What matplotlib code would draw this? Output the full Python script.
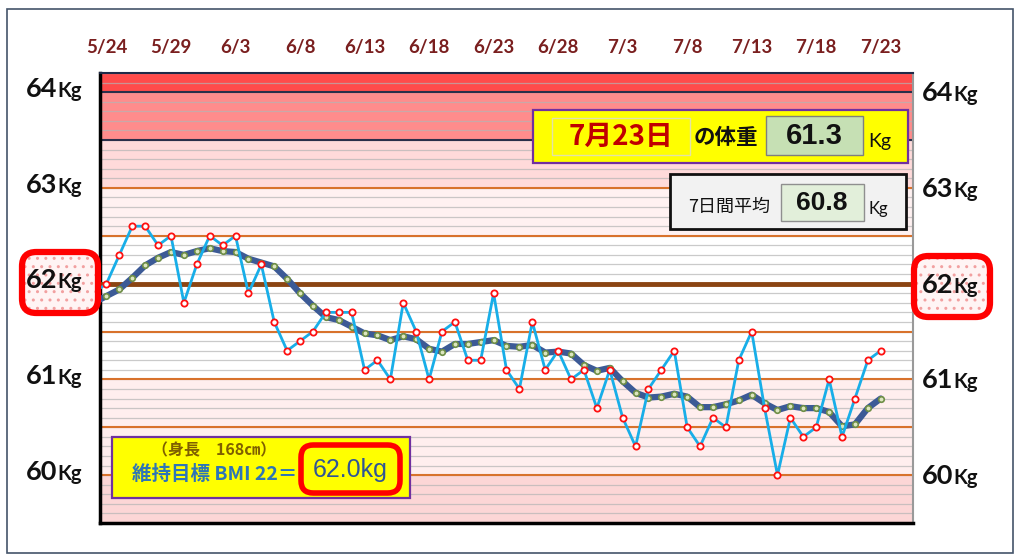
import numpy as np
import matplotlib.pyplot as plt
import matplotlib.transforms as mtransforms
from matplotlib.patches import Rectangle, FancyBboxPatch

# day index -1 is 5/23 (clipped at the left edge)
days = np.arange(-1, 61)
tick_days = list(range(0, 61, 5))
tick_labels = ["5/24", "5/29", "6/3", "6/8", "6/13", "6/18", "6/23",
               "6/28", "7/3", "7/8", "7/13", "7/18", "7/23"]

weight = [61.9, 62.0, 62.3, 62.6, 62.6, 62.4, 62.5, 61.8, 62.2, 62.5, 62.4,
          62.5, 61.9, 62.2, 61.6, 61.3, 61.4, 61.5, 61.7, 61.7, 61.7, 61.1,
          61.2, 61.0, 61.8, 61.5, 61.0, 61.5, 61.6, 61.2, 61.2, 61.9, 61.1,
          60.9, 61.6, 61.1, 61.3, 61.0, 61.1, 60.7, 61.1, 60.6, 60.3, 60.9,
          61.1, 61.3, 60.5, 60.3, 60.6, 60.5, 61.2, 61.5, 60.7, 60.0, 60.6,
          60.4, 60.5, 61.0, 60.4, 60.8, 61.2, 61.3]

avg7 = [61.80, 61.87, 61.94, 62.06, 62.19, 62.27, 62.33, 62.30, 62.34, 62.37,
        62.34, 62.33, 62.26, 62.22, 62.18, 62.05, 61.90, 61.77, 61.65, 61.62,
        61.55, 61.48, 61.46, 61.41, 61.45, 61.42, 61.32, 61.29, 61.37, 61.37,
        61.39, 61.41, 61.35, 61.34, 61.36, 61.28, 61.29, 61.27, 61.15, 61.09,
        61.12, 60.98, 60.86, 60.81, 60.82, 60.85, 60.82, 60.71, 60.71, 60.74,
        60.78, 60.84, 60.75, 60.68, 60.72, 60.70, 60.70, 60.66, 60.51, 60.53,
        60.70, 60.80]

kg_labels = [60, 61, 62, 63, 64]
goal = 62.0
today_label = "7月23日"
today_weight = 61.3
week_avg = 60.8

JP = ['Noto Sans CJK JP', 'DejaVu Sans']
LAT = ['Lato', 'DejaVu Sans']
LIB = ['Liberation Sans', 'DejaVu Sans']

W, H = 1024, 558
fig = plt.figure(figsize=(W / 100, H / 100), dpi=100)
fig.patch.set_facecolor('white')


def fx(px):
    return px / W


def fy(py):
    return 1 - py / H


ax = fig.add_axes([fx(100), fy(523), fx(913) - fx(100), fy(73) - fy(523)])
ax.set_xlim(-0.5, 62.5)
ax.set_ylim(59.5, 64.2)

# background bands
bands = [(59.5, 60.0, '#FCD6D6'), (60.0, 61.0, '#FFEEEE'), (61.0, 62.5, 'white'),
         (62.5, 63.0, '#FFF1F1'), (63.0, 63.5, '#FFDADA'), (63.5, 64.0, '#FF8C8C'),
         (64.0, 64.2, '#FF4B4B')]
for lo, hi, c in bands:
    ax.axhspan(lo, hi, color=c, lw=0, zorder=0)

for v in np.arange(59.6, 64.2, 0.1):
    ax.axhline(v, color='#B4B4B4', lw=0.9, alpha=0.7, zorder=1)
for v in [60.0, 60.5, 61.0, 61.5, 62.5, 63.0]:
    ax.axhline(v, color='#D8722C', lw=1.5, zorder=2)
for v in [63.5, 64.0]:
    ax.axhline(v, color='#2B2F4A', lw=1.5, zorder=2)
ax.axhline(goal, color='#8B4513', lw=3.5, zorder=3)

ax.plot(days, avg7, color='#3C5A96', lw=4.5, solid_joinstyle='round',
        solid_capstyle='round', marker='o', ms=4, mfc='#DCE6C0', mec='#6E8E46',
        mew=1.2, zorder=4)
ax.plot(days, weight, color='#18AEE8', lw=2, marker='o', ms=4.5, mfc='white',
        mec='#FF1010', mew=1.3, zorder=5)

ax.xaxis.tick_top()
ax.set_xticks(tick_days)
ax.set_xticklabels(tick_labels, family=LAT, fontweight='bold', fontsize=13.5,
                   color='#7A1F1F')
ax.tick_params(axis='x', length=0, pad=12)
ax.set_yticks([])

ax.spines['left'].set_color('black')
ax.spines['left'].set_linewidth(2.5)
ax.spines['bottom'].set_color('black')
ax.spines['bottom'].set_linewidth(2.5)
ax.spines['top'].set_color('#1F2A48')
ax.spines['top'].set_linewidth(1.5)
ax.spines['right'].set_color('#9A9A9A')
ax.spines['right'].set_linewidth(1.5)

# outer frame
fig.patches.append(Rectangle((fx(7), fy(553)), fx(1013) - fx(7), fy(9) - fy(553),
                             transform=fig.transFigure, fill=False,
                             edgecolor='#44546A', lw=1.2, zorder=1))

# red boxes around the 62Kg labels
for x0, x1, y0, y1 in [(22, 98, 252, 313), (914, 990, 256, 317)]:
    bg = FancyBboxPatch((fx(x0), fy(y1)), fx(x1) - fx(x0), fy(y0) - fy(y1),
                        boxstyle='round,pad=0,rounding_size=0.02',
                        transform=fig.transFigure, facecolor='#FFF4F4',
                        edgecolor='#F2A0A0', hatch='..', lw=0, zorder=2,
                        mutation_aspect=W / H)
    fig.patches.append(bg)
    rim = FancyBboxPatch((fx(x0), fy(y1)), fx(x1) - fx(x0), fy(y0) - fy(y1),
                         boxstyle='round,pad=0,rounding_size=0.014',
                         transform=fig.transFigure, facecolor='none',
                         edgecolor='#FF0000', lw=4.5, zorder=2,
                         mutation_aspect=W / H)
    fig.patches.append(rim)

# kg labels on both sides
trans = mtransforms.blended_transform_factory(fig.transFigure, ax.transData)
for v in kg_labels:
    fig.text(fx(57), v - 0.05, str(v), transform=trans, ha='right', va='baseline',
             family=LAT, fontweight='bold', fontsize=19.5, color='#111111', zorder=5)
    fig.text(fx(57.5), v - 0.05, 'Kg', transform=trans, ha='left', va='baseline',
             family=LAT, fontweight='bold', fontsize=14.5, color='#111111', zorder=5)
    fig.text(fx(953), v - 0.095, str(v), transform=trans, ha='right', va='baseline',
             family=LAT, fontweight='bold', fontsize=19.5, color='#111111', zorder=5)
    fig.text(fx(953.5), v - 0.095, 'Kg', transform=trans, ha='left', va='baseline',
             family=LAT, fontweight='bold', fontsize=14.5, color='#111111', zorder=5)


def box(x0, y0, x1, y1, fc, ec, lw):
    fig.patches.append(Rectangle((fx(x0), fy(y1)), fx(x1) - fx(x0), fy(y0) - fy(y1),
                                 transform=fig.transFigure, facecolor=fc,
                                 edgecolor=ec, lw=lw, zorder=3))


# today's weight box
box(533, 110, 908, 163, '#FFFF00', '#7030A0', 1.6)
box(552, 118, 690, 155, '#FFFF00', '#E2E2A8', 1.0)
fig.text(fx(621), fy(137), today_label, ha='center', va='center', family=JP,
         fontweight='bold', fontsize=20, color='#C00000', zorder=5)
fig.text(fx(694), fy(138), 'の体重', ha='left', va='center', family=JP,
         fontweight='bold', fontsize=15.5, color='#111111', zorder=5)
box(766, 116, 863, 155, '#C6E0B4', '#7F7F7F', 1.0)
fig.text(fx(814), fy(136), f'{today_weight:.1f}', ha='center', va='center',
         family=LIB, fontweight='bold', fontsize=21, color='#111111', zorder=5)
fig.text(fx(868), fy(141), 'Kg', ha='left', va='center', family=LAT,
         fontsize=14, color='#111111', zorder=5)

# 7 day average box
box(670, 174, 906, 229, '#F2F2F2', '#111111', 2.0)
fig.text(fx(688), fy(207), '7日間平均', ha='left', va='center', family=JP,
         fontsize=13, color='#111111', zorder=5)
box(781, 184, 864, 221, '#E2EFDA', '#8F8F8F', 1.0)
fig.text(fx(822), fy(203), f'{week_avg:.1f}', ha='center', va='center',
         family=LIB, fontweight='bold', fontsize=19, color='#111111', zorder=5)
fig.text(fx(869), fy(209), 'Kg', ha='left', va='center', family=LAT,
         fontsize=12, color='#111111', zorder=5)

# BMI goal box
box(112, 437, 410, 498, '#FFFF00', '#7030A0', 1.6)
fig.text(fx(152), fy(450), '（身長　168㎝）', ha='left', va='center', family=JP,
         fontweight='bold', fontsize=11.5, color='#7F6000', zorder=5)
fig.text(fx(132), fy(474), '維持目標 BMI 22＝', ha='left', va='center', family=JP,
         fontweight='bold', fontsize=14, color='#2E75B6', zorder=5)
fig.patches.append(FancyBboxPatch((fx(301), fy(493)), fx(400) - fx(301),
                                  fy(445) - fy(493),
                                  boxstyle='round,pad=0,rounding_size=0.012',
                                  transform=fig.transFigure, facecolor='none',
                                  edgecolor='#FF0000', lw=4, zorder=4,
                                  mutation_aspect=W / H))
fig.text(fx(350), fy(470), f'{goal:.1f}kg', ha='center', va='center',
         family=LIB, fontsize=18, color='#2F5597', zorder=5)

fig.savefig('out.png', dpi=100)
